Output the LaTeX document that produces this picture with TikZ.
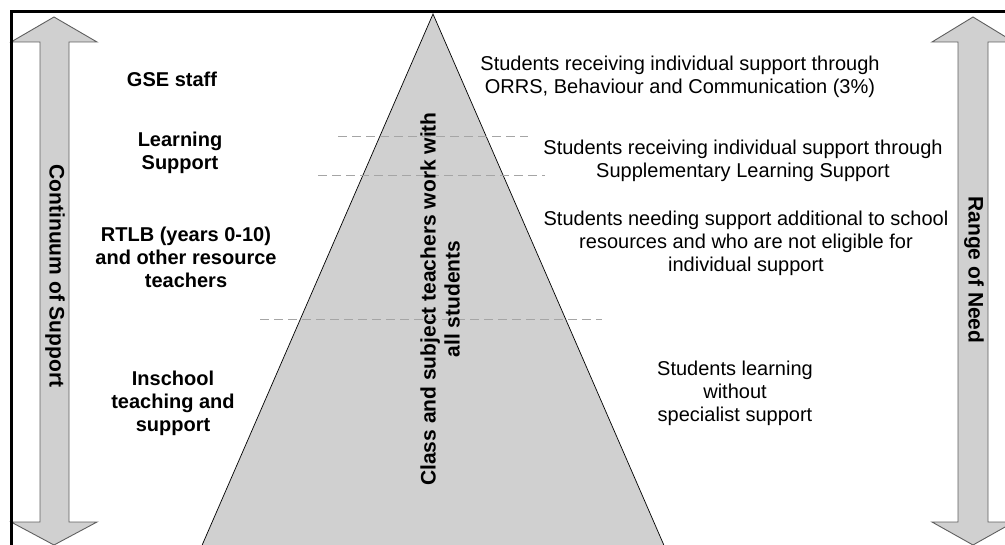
\documentclass[tikz,border=0pt]{standalone}
\usepackage{fontspec}
\setmainfont{Liberation Sans}

\definecolor{pyrgray}{RGB}{208,208,208}
\definecolor{dashgray}{RGB}{165,165,165}
\definecolor{edgegray}{RGB}{95,95,95}

\tikzset{
  supporttext/.style={align=center, font=\fontsize{20}{23}\selectfont\bfseries},
  needtext/.style={align=center, font=\fontsize{20}{23}\selectfont},
  arrowtext/.style={font=\fontsize{21}{24}\selectfont\bfseries},
  sidearrow/.style={fill=pyrgray, draw=edgegray, line width=0.9pt},
  level/.style={dashgray, dash pattern=on 9pt off 5pt, line width=1pt}
}

\begin{document}
\begin{tikzpicture}[x=1pt,y=-1pt]
 \useasboundingbox (0,0) rectangle (1005,545);

 % pyramid
 \coordinate (apex) at (433,14);
 \coordinate (baseL) at (200,550);
 \coordinate (baseR) at (666,550);
 \draw[fill=pyrgray, line width=0.7pt] (apex) -- (baseL) -- (baseR) -- cycle;

 % level lines
 \coordinate (top1) at (338,137);  \coordinate (top2) at (528,137);
 \coordinate (mid1) at (318,176);  \coordinate (mid2) at (545,176);
 \coordinate (low1) at (260,320);  \coordinate (low2) at (602,320);
 \draw[level] (top1) -- (top2);
 \draw[level] (mid1) -- (mid2);
 \draw[level] (low1) -- (low2);

 % side arrows
 \draw[sidearrow] (54,17) -- (97,42) -- (69,42) -- (69,522) -- (97,522) -- (54,545)
   -- (11,522) -- (40,522) -- (40,42) -- (11,42) -- cycle;
 \draw[sidearrow] (973,17) -- (1014,42) -- (988,42) -- (988,522) -- (1014,522) -- (973,545)
   -- (932,522) -- (958,522) -- (958,42) -- (932,42) -- cycle;
 \node[arrowtext, rotate=-90] (cont) at (55,276) {Continuum of Support};
 \node[arrowtext, rotate=-90] (range) at (974,270) {Range of Need};

 % frame
 \coordinate (frameB) at (11.5,550);
 \coordinate (frameC) at (11.5,11.5);
 \coordinate (frameR) at (1010,11.5);
 \draw[line width=3pt] (frameB) -- (frameC) -- (frameR);

 % continuum of support
 \node[supporttext] (gse) at (172,79) {GSE staff};
 \node[supporttext] (learn) at (180,153) {Learning\\Support};
 \node[supporttext] (rtlb) at (186,257) {RTLB (years 0-10)\\and other resource\\teachers};
 \node[supporttext] (inschool) at (173,403) {Inschool\\teaching and\\support};

 % class teachers
 \node[arrowtext, align=center, rotate=90] (class) at (440,299)
   {Class and subject teachers work with\\all students};

 % range of need
 \node[needtext] (ors) at (680,77) {Students receiving individual support through\\ORRS, Behaviour and Communication (3\%)};
 \node[needtext] (sls) at (743,161) {Students receiving individual support through\\Supplementary Learning Support};
 \node[needtext] (extra) at (746,243) {Students needing support additional to school\\resources and who are not eligible for\\individual support};
 \node[needtext] (none) at (735,393) {Students learning\\without\\specialist support};
\end{tikzpicture}
\end{document}
